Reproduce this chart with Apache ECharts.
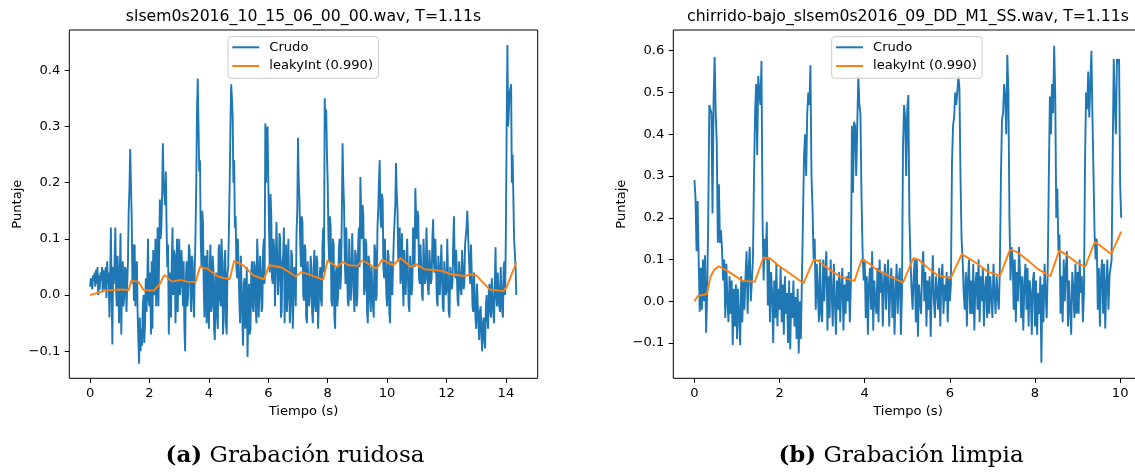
<!DOCTYPE html>
<html>
<head>
<meta charset="utf-8">
<script src="https://cdn.jsdelivr.net/npm/echarts@6/dist/echarts.min.js"></script>
<style>
  html, body { margin: 0; padding: 0; background: #fff; }
  #chart { width: 1135px; height: 473px; }
</style>
</head>
<body>
<div id="chart"></div>
<script>
// ---- (a) noisy recording: raw score sampled every dtA seconds ----
const dtA = 0.025;
const crudoA = [
  0.015, 0.03, 0.02, 0.01, 0.035, 0.025, 0.04, 0.015, 0.045, 0.02, 0.05, 0.0, 0.035, 0.01, 0.04, 0.025, 0.05, 0.005, 0.045, 0.03,
  0.01, 0.05, -0.005, 0.06, 0.02, 0.04, -0.04, 0.03, 0.12, 0.0, -0.088, 0.05, 0.02, 0.06, 0.12, 0.01, -0.02, 0.07, 0.03, -0.05,
  0.04, 0.11, -0.07, 0.03, 0.06, -0.02, 0.0, 0.05, 0.045, -0.03, 0.02, 0.06, 0.15, 0.19, 0.26, 0.2, 0.14, 0.02, 0.09, -0.01,
  0.09, -0.02, 0.04, 0.06, -0.03, -0.08, -0.122, -0.04, -0.1, -0.06, -0.09, -0.02, 0.0, -0.085, -0.05, 0.03, -0.03, 0.02, 0.1, -0.01,
  -0.02, 0.04, -0.07, 0.06, -0.06, 0.08, 0.02, 0.0, 0.1, -0.02, 0.05, 0.12, -0.02, 0.07, 0.17, 0.1, 0.12, 0.18, 0.27, 0.2,
  0.2, 0.16, 0.22, 0.12, 0.05, 0.09, -0.07, 0.02, 0.04, -0.04, 0.06, 0.12, 0.0, 0.08, 0.07, -0.05, 0.03, 0.1, -0.03, 0.05,
  0.1, 0.0, 0.02, 0.08, 0.05, -0.02, 0.06, -0.06, -0.1, 0.03, 0.06, -0.02, 0.0, 0.09, 0.08, 0.02, -0.03, 0.07, 0.06, -0.01,
  -0.04, 0.05, 0.11, 0.2, 0.33, 0.385, 0.3, 0.22, 0.24, 0.1, 0.05, 0.15, 0.13, 0.02, -0.04, 0.07, 0.06, -0.05, 0.08, 0.0,
  -0.06, 0.04, 0.09, -0.03, -0.02, 0.07, 0.05, -0.06, -0.08, 0.03, 0.04, -0.04, -0.06, 0.08, 0.09, -0.01, -0.02, 0.1, 0.06, -0.07,
  -0.04, 0.06, 0.08, -0.05, -0.07, 0.04, 0.05, 0.12, 0.2, 0.3, 0.375, 0.35, 0.32, 0.2, 0.24, 0.12, 0.14, 0.05, 0.03, 0.1,
  0.1, -0.01, -0.05, 0.07, 0.07, -0.04, -0.09, 0.02, 0.03, -0.06, -0.02, 0.05, -0.11, -0.03, 0.02, -0.07, -0.06, 0.04, 0.06, -0.02,
  -0.03, 0.06, 0.05, -0.02, -0.05, 0.1, 0.06, -0.04, 0.0, 0.07, 0.04, -0.03, -0.02, 0.08, 0.1, 0.02, 0.305, 0.2, 0.29, 0.3,
  0.2, 0.12, 0.04, 0.18, 0.14, 0.03, 0.02, 0.1, 0.08, -0.02, -0.02, 0.13, 0.13, 0.0, 0.03, 0.11, 0.1, -0.04, -0.03, 0.06,
  0.07, 0.12, -0.05, 0.04, 0.09, -0.03, 0.0, 0.1, 0.1, -0.05, -0.02, 0.08, 0.07, -0.06, -0.06, 0.05, 0.04, -0.02, 0.11, 0.15,
  0.28, 0.2, 0.17, 0.09, 0.05, 0.14, 0.13, 0.0, -0.01, 0.09, 0.08, -0.04, -0.05, 0.06, 0.06, -0.02, 0.0, 0.07, 0.05, -0.03,
  -0.05, 0.04, 0.08, -0.02, -0.03, 0.07, 0.06, -0.06, -0.06, 0.03, 0.05, -0.01, -0.02, 0.09, 0.12, 0.04, 0.35, 0.3, 0.33, 0.25,
  0.2, 0.1, 0.06, 0.14, 0.12, -0.01, -0.02, 0.1, 0.09, -0.04, -0.06, 0.04, 0.05, -0.02, 0.0, 0.08, 0.1, 0.01, 0.04, 0.14,
  0.27, 0.2, 0.16, 0.06, 0.02, 0.12, 0.12, -0.01, -0.02, 0.1, 0.1, -0.01, 0.02, 0.11, 0.11, 0.0, -0.03, 0.08, 0.07, -0.02,
  0.0, 0.09, 0.12, 0.05, 0.21, 0.15, 0.1, 0.16, 0.14, 0.0, 0.01, 0.1, 0.09, -0.03, -0.05, 0.07, 0.06, -0.01, -0.03, 0.05,
  0.05, -0.02, -0.04, 0.09, 0.08, -0.01, 0.0, 0.12, 0.15, 0.2, 0.24, 0.14, 0.12, 0.18, 0.17, 0.05, 0.03, 0.1, 0.1, 0.0,
  -0.02, 0.08, 0.07, -0.03, -0.05, 0.06, 0.06, 0.0, 0.0, 0.1, 0.13, 0.16, 0.235, 0.18, 0.15, 0.06, 0.1, 0.12, 0.02, 0.04,
  0.11, 0.03, -0.02, 0.08, 0.08, 0.0, 0.0, 0.1, 0.1, -0.02, -0.03, 0.07, 0.07, 0.0, 0.02, 0.12, 0.12, 0.05, 0.19, 0.14,
  0.1, 0.15, 0.14, 0.03, 0.02, 0.09, 0.09, 0.0, -0.01, 0.1, 0.1, 0.02, 0.03, 0.12, 0.12, 0.01, 0.0, 0.08, 0.08, 0.02,
  0.03, 0.1, 0.135, 0.06, 0.04, 0.1, 0.1, -0.01, -0.02, 0.07, 0.07, 0.0, 0.0, 0.09, 0.09, -0.02, -0.03, 0.06, 0.06, 0.0,
  0.01, 0.1, 0.1, -0.03, -0.04, 0.05, 0.05, 0.01, 0.02, 0.09, 0.14, 0.06, 0.03, 0.08, 0.08, -0.01, -0.02, 0.06, 0.06, 0.01,
  0.0, 0.08, 0.08, 0.01, 0.02, 0.09, 0.09, 0.12, 0.15, 0.11, 0.11, 0.04, 0.02, 0.09, 0.09, -0.02, -0.03, 0.04, 0.04, -0.04,
  -0.06, 0.02, 0.02, -0.05, -0.08, -0.03, -0.02, -0.07, -0.1, -0.05, -0.04, -0.08, -0.095, -0.02, 0.0, -0.04, -0.06, 0.01, 0.02, -0.03,
  -0.04, 0.03, 0.03, -0.03, -0.05, 0.02, 0.085, 0.0, -0.02, 0.04, 0.04, -0.02, -0.03, 0.05, 0.05, -0.03, -0.04, 0.05, 0.06, 0.0,
  0.12, 0.3, 0.445, 0.3, 0.3, 0.36, 0.36, 0.375, 0.2, 0.25, 0.25, 0.1, 0.1, 0.05, 0.0
];
// leaky integrator output (time, value) breakpoints
const leakyTA = [0, 0.5, 1.0, 1.3, 1.38, 1.62, 1.8, 2.15, 2.35, 2.5, 2.75, 3.05, 3.25, 3.55, 3.7, 3.95,
  4.3, 4.7, 4.85, 5.15, 5.5, 5.85, 6.03, 6.45, 6.93, 7.12, 7.42, 7.85, 7.99, 8.32, 8.5, 8.7, 9.0, 9.17,
  9.65, 9.83, 10.2, 10.45, 10.8, 10.97, 11.25, 11.85, 12.15, 12.6, 12.85, 13.0, 13.45, 13.92, 14.03, 14.35];
const leakyVA = [0, 0.008, 0.01, 0.009, 0.025, 0.024, 0.009, 0.008, 0.02, 0.036, 0.024, 0.027, 0.024, 0.023, 0.05, 0.047,
  0.033, 0.028, 0.061, 0.053, 0.035, 0.028, 0.053, 0.049, 0.033, 0.041, 0.036, 0.027, 0.061, 0.05, 0.059, 0.053, 0.052, 0.062,
  0.047, 0.063, 0.053, 0.066, 0.05, 0.055, 0.046, 0.043, 0.037, 0.034, 0.037, 0.035, 0.01, 0.007, 0.015, 0.058];

// ---- (b) clean recording: raw score sampled every dtB seconds ----
const dtB = 0.025;
const crudoB = [
  0.29, 0.25, 0.12, 0.24, 0.1, -0.025, 0.08, -0.02, 0.1, 0.0, 0.11, -0.075, 0.02, 0.2, 0.47, 0.46, 0.45, 0.21, 0.48, 0.585,
  0.45, 0.38, 0.14, 0.28, 0.14, 0.17, 0.12, 0.05, 0.1, -0.04, 0.09, 0.0, -0.05, 0.06, -0.03, 0.05, -0.105, 0.03, -0.06, 0.04,
  -0.09, 0.03, -0.04, -0.105, 0.06, -0.05, 0.05, -0.02, 0.06, 0.12, -0.03, 0.08, 0.13, 0.0, 0.05, 0.1, 0.3, 0.45, 0.52, 0.35,
  0.54, 0.5, 0.47, 0.575, 0.2, 0.05, 0.15, 0.1, 0.19, -0.01, 0.1, -0.05, 0.07, 0.02, -0.1, 0.05, -0.04, 0.09, -0.06, 0.03,
  -0.02, 0.08, -0.05, 0.04, -0.08, 0.06, -0.03, 0.02, -0.1, 0.05, -0.115, 0.02, -0.04, 0.05, -0.06, 0.01, -0.09, 0.03, -0.125, 0.0,
  -0.09, 0.05, 0.2, 0.35, 0.4, 0.3, 0.45, 0.5, 0.47, 0.565, 0.3, 0.22, 0.1, 0.15, -0.02, 0.09, 0.02, -0.05, 0.1, -0.03,
  -0.05, 0.1, 0.0, 0.08, 0.12, -0.07, 0.06, -0.04, 0.1, 0.02, -0.06, 0.09, 0.0, -0.08, 0.05, -0.02, 0.07, -0.05, 0.04, 0.08,
  -0.07, 0.04, -0.03, 0.06, 0.0, 0.07, -0.05, 0.04, 0.42, 0.26, 0.43, 0.42, 0.3, 0.42, 0.54, 0.47, 0.45, 0.25, 0.12, 0.05,
  0.1, -0.04, 0.06, -0.08, 0.04, 0.08, -0.02, 0.12, -0.07, 0.05, 0.0, -0.03, 0.08, -0.05, 0.1, 0.02, 0.07, -0.06, 0.04, 0.09,
  -0.02, 0.05, 0.1, -0.06, 0.03, 0.08, -0.04, 0.06, -0.08, 0.02, 0.09, -0.03, 0.05, 0.08, -0.08, 0.02, 0.37, 0.47, 0.44, 0.3,
  0.46, 0.494, 0.2, 0.1, 0.03, -0.02, 0.06, 0.1, -0.05, 0.1, -0.085, 0.04, 0.0, -0.03, 0.08, 0.12, 0.0, 0.07, -0.06, 0.05,
  -0.02, 0.06, -0.085, 0.03, 0.11, 0.0, -0.04, 0.06, 0.02, -0.02, 0.08, -0.06, 0.05, 0.09, -0.03, 0.04, 0.0, 0.07, -0.05, 0.06,
  0.0, 0.04, 0.33, 0.42, 0.44, 0.5, 0.47, 0.5, 0.54, 0.51, 0.3, 0.15, 0.1, 0.02, -0.02, 0.07, -0.06, 0.05, 0.1, -0.03,
  0.05, -0.03, 0.09, -0.07, 0.04, 0.07, -0.02, 0.1, -0.05, 0.06, 0.0, 0.08, -0.06, 0.03, 0.06, -0.04, 0.09, -0.03, 0.06, 0.01,
  -0.04, 0.09, 0.02, -0.03, 0.06, 0.01, -0.02, 0.08, 0.3, 0.434, 0.45, 0.52, 0.49, 0.4, 0.59, 0.5, 0.2, 0.05, 0.13, 0.1,
  -0.02, 0.1, -0.05, 0.07, 0.0, 0.13, 0.06, -0.04, 0.06, -0.07, 0.04, 0.09, -0.02, 0.08, -0.06, 0.05, 0.02, -0.08, 0.05, 0.07,
  -0.06, 0.05, -0.08, 0.02, -0.03, 0.06, -0.147, 0.04, -0.05, 0.09, 0.02, -0.04, 0.08, 0.3, 0.49, 0.4, 0.52, 0.45, 0.612, 0.5,
  0.2, 0.27, 0.12, 0.16, -0.03, 0.06, -0.05, 0.1, 0.0, 0.08, 0.12, -0.06, 0.05, -0.02, -0.08, 0.07, 0.03, -0.04, 0.09, -0.03,
  0.07, -0.03, 0.1, 0.02, 0.06, -0.05, 0.02, 0.33, 0.5, 0.46, 0.55, 0.44, 0.52, 0.6, 0.44, 0.3, 0.16, 0.1, 0.15, -0.02,
  0.08, -0.06, 0.06, 0.1, -0.03, 0.09, -0.065, 0.04, 0.1, -0.02, 0.06, 0.08, 0.1, 0.35, 0.58, 0.47, 0.4, 0.58, 0.57, 0.58,
  0.28, 0.2
];
const leakyTB = [0, 0.08, 0.29, 0.38, 0.46, 0.57, 0.8, 1.13, 1.42, 1.62, 1.77, 1.98, 2.32, 2.56, 2.8, 2.91,
  3.08, 3.42, 3.76, 3.93, 4.1, 4.26, 4.6, 4.9, 5.14, 5.28, 5.45, 5.7, 6.02, 6.28, 6.63, 6.89, 7.18, 7.41,
  7.56, 7.82, 8.07, 8.36, 8.57, 8.71, 9.0, 9.18, 9.4, 9.51, 9.79, 10.025];
const leakyVB = [0.0, 0.013, 0.017, 0.059, 0.075, 0.084, 0.071, 0.049, 0.047, 0.105, 0.103, 0.085, 0.061, 0.043, 0.099, 0.097,
  0.083, 0.059, 0.049, 0.1, 0.091, 0.077, 0.059, 0.045, 0.103, 0.099, 0.083, 0.063, 0.055, 0.113, 0.091, 0.071, 0.061, 0.123,
  0.119, 0.099, 0.077, 0.06, 0.122, 0.113, 0.091, 0.083, 0.142, 0.135, 0.113, 0.167];

// ---- axes ----
const xTicksA = [0, 2, 4, 6, 8, 10, 12, 14];
const yTicksA = [-0.1, 0.0, 0.1, 0.2, 0.3, 0.4];
const xTicksB = [0, 2, 4, 6, 8, 10];
const yTicksB = [-0.1, 0.0, 0.1, 0.2, 0.3, 0.4, 0.5, 0.6];

const titleA = 'slsem0s2016_10_15_06_00_00.wav, T=1.11s';
const titleB = 'chirrido-bajo_slsem0s2016_09_DD_M1_SS.wav, T=1.11s';
const captionA = ['(a)', 'Grabación ruidosa'];
const captionB = ['(b)', 'Grabación limpia'];
const nameRaw = 'Crudo';
const nameLeaky = 'leakyInt (0.990)';

const SANS = '"DejaVu Sans", sans-serif';
const SERIF = '"DejaVu Serif", serif';
const BLUE = '#1f77b4';
const ORANGE = '#ff7f0e';

const sampled = (vals, dt) => vals.map((v, i) => [+(i * dt).toFixed(3), v]);
const paired = (ts, vs) => ts.map((t, i) => [t, vs[i]]);
const fmtY = v => (v < 0 ? '\u2212' : '') + Math.abs(v).toFixed(1);

function xAxis(idx, min, max, ticks) {
  return {
    type: 'value', gridIndex: idx, min, max,
    name: 'Tiempo (s)', nameLocation: 'middle', nameGap: 26,
    nameTextStyle: { fontFamily: SANS, fontSize: 13.1, color: '#000' },
    axisLine: { show: false, onZero: false },
    splitLine: { show: false },
    axisTick: { show: true, customValues: ticks, length: 4.6, lineStyle: { color: '#000', width: 1 } },
    axisLabel: { customValues: ticks, margin: 9, fontFamily: SANS, fontSize: 13.1, color: '#000',
      formatter: v => String(v) }
  };
}
function yAxis(idx, min, max, ticks) {
  return {
    type: 'value', gridIndex: idx, min, max,
    name: 'Puntaje', nameLocation: 'middle', nameGap: 45, nameRotate: 90,
    nameTextStyle: { fontFamily: SANS, fontSize: 13.1, color: '#000' },
    axisLine: { show: false, onZero: false },
    splitLine: { show: false },
    axisTick: { show: true, customValues: ticks, length: 4.6, lineStyle: { color: '#000', width: 1 } },
    axisLabel: { customValues: ticks, margin: 9, fontFamily: SANS, fontSize: 13.1, color: '#000',
      formatter: fmtY }
  };
}
function legend(left) {
  return {
    data: [{ name: nameRaw }, { name: nameLeaky }],
    orient: 'vertical', left, top: 36.7,
    icon: 'rect', itemWidth: 27, itemHeight: 2, itemGap: 2.7,
    padding: [2.6, 5.4, 4.3, 4.3],
    backgroundColor: 'rgba(255,255,255,0.8)', borderColor: '#cccccc', borderWidth: 1, borderRadius: 3,
    textStyle: { fontFamily: SANS, fontSize: 13.1, color: '#000', lineHeight: 16, padding: [0, 0, 0, 5] },
    selectedMode: false
  };
}
function lineSeries(name, data, idx, color) {
  return {
    type: 'line', name, data, xAxisIndex: idx, yAxisIndex: idx,
    showSymbol: false, symbol: 'none', smooth: false, clip: true,
    lineStyle: { color, width: 1.9 }, itemStyle: { color },
    z: name === nameLeaky ? 3 : 2, silent: true
  };
}
function titleText(x, text) {
  return { type: 'text', x, y: 17, style: { text, fontFamily: SANS, fontSize: 15.7, fill: '#000',
    align: 'center', verticalAlign: 'middle' } };
}
function captionText(x, parts) {
  return { type: 'text', x, y: 456, style: {
    text: '{b|' + parts[0] + '} ' + parts[1],
    fontFamily: SERIF, fontSize: 23, fill: '#000', align: 'center', verticalAlign: 'middle',
    rich: { b: { fontFamily: SERIF, fontSize: 23, fontWeight: 'bold', fill: '#000' } } } };
}

const chart = echarts.init(document.getElementById('chart'), null, { renderer: 'canvas' });
chart.setOption({
  animation: false,
  backgroundColor: '#fff',
  grid: [
    { left: 69.3, top: 30, width: 468.4, height: 348.3, show: true, borderColor: '#000', borderWidth: 1,
      backgroundColor: 'transparent', containLabel: false, outerBoundsMode: 'none' },
    { left: 673.3, top: 30, width: 469.4, height: 348.3, show: true, borderColor: '#000', borderWidth: 1,
      backgroundColor: 'transparent', containLabel: false, outerBoundsMode: 'none' }
  ],
  xAxis: [ xAxis(0, -0.70, 15.07, xTicksA), xAxis(1, -0.496, 10.53, xTicksB) ],
  yAxis: [ yAxis(0, -0.148, 0.4715, yTicksA), yAxis(1, -0.1843, 0.6495, yTicksB) ],
  legend: [ legend(228), legend(831.7) ],
  series: [
    lineSeries(nameRaw, sampled(crudoA, dtA), 0, BLUE),
    lineSeries(nameLeaky, paired(leakyTA, leakyVA), 0, ORANGE),
    lineSeries(nameRaw, sampled(crudoB, dtB), 1, BLUE),
    lineSeries(nameLeaky, paired(leakyTB, leakyVB), 1, ORANGE)
  ],
  graphic: [
    titleText(303.5, titleA), titleText(908, titleB),
    captionText(295, captionA), captionText(901, captionB)
  ]
});
</script>
</body>
</html>
